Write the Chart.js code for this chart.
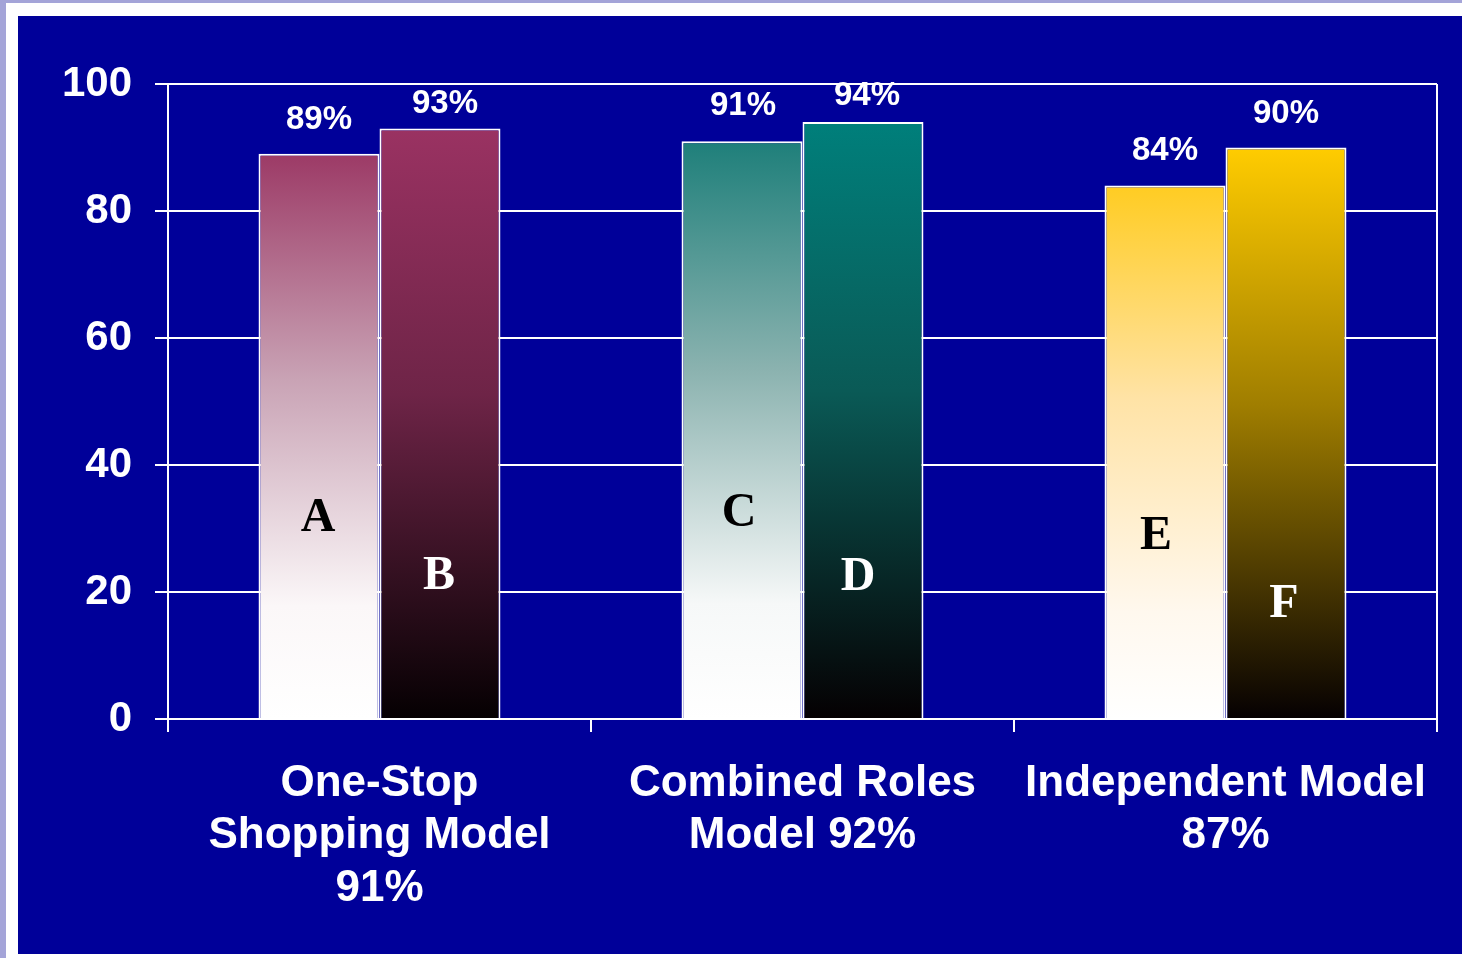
<!DOCTYPE html>
<html>
<head>
<meta charset="utf-8">
<script src="https://cdn.jsdelivr.net/npm/chart.js@4/dist/chart.umd.min.js"></script>
<style>
  html, body { margin: 0; padding: 0; }
  body { width: 1462px; height: 958px; background: #a4a4d8; position: relative; overflow: hidden; }
  #frame { position: absolute; left: 6px; top: 3px; right: 0; bottom: 0; background: #ffffff; }
  #panel { position: absolute; left: 18px; top: 16px; width: 1444px; height: 938px; background: #000099; }
</style>
</head>
<body>
<div id="frame"></div>
<div id="panel"><canvas id="barChart" width="1444" height="938"></canvas></div>
<script>
// categories (multi-line x labels)
var categories = [
  ['One-Stop', 'Shopping Model', '91%'],
  ['Combined Roles', 'Model 92%'],
  ['Independent Model', '87%']
];

// left bar of each pair (A, C, E) and right bar (B, D, F)
var leftValues = [89, 91, 84];
var rightValues = [93, 94, 90];

var leftLetters = ['A', 'C', 'E'];
var rightLetters = ['B', 'D', 'F'];

// height (in axis units) where the letter sits inside the bar
var leftLetterLevels = [31.5, 32.3, 28.7];
var rightLetterLevels = [22.4, 22.2, 18.0];

var yTicks = [0, 20, 40, 60, 80, 100];

var topColors = ['#9c3a66', '#1e7f7a', '#ffcc22'];
var lightMids = ['#c9a3b5', '#8cb3b0', '#ffe3a6'];
var nearWhite = ['#fbf7f8', '#f6f8f8', '#fff8ee'];
var topColorsDark = ['#9a3262', '#007f7b', '#ffcc00'];
var darkMids = ['#6e2447', '#0a5a56', '#a07e00'];

var WHITE = '#ffffff';

function fadeFill(toWhite) {
  return function (ctx) {
    var chart = ctx.chart;
    var i = ctx.dataIndex;
    var top = toWhite ? topColors[i] : topColorsDark[i];
    if (!chart.chartArea || ctx.raw === undefined) return top;
    var y = chart.scales.y;
    var y0 = y.getPixelForValue(ctx.raw);
    var y1 = y.getPixelForValue(0);
    var g = chart.ctx.createLinearGradient(0, y0, 0, y1);
    g.addColorStop(0, top);
    if (toWhite) {
      g.addColorStop(0.4, lightMids[i]);
      g.addColorStop(0.8, nearWhite[i]);
      g.addColorStop(1, '#ffffff');
    } else {
      g.addColorStop(0.45, darkMids[i]);
      g.addColorStop(1, '#050002');
    }
    return g;
  };
}

// value labels above bars + letters inside bars
var barText = {
  id: 'barText',
  afterDatasetsDraw: function (chart) {
    var c = chart.ctx;
    var y = chart.scales.y;
    chart.data.datasets.forEach(function (ds, di) {
      chart.getDatasetMeta(di).data.forEach(function (bar, i) {
        c.save();
        c.textAlign = 'center';
        c.textBaseline = 'middle';
        c.fillStyle = WHITE;
        c.font = 'bold 33px "Liberation Sans", Arial, sans-serif';
        c.fillText(ds.data[i] + '%', bar.x + ds.labelShift[i], bar.y - ds.labelGap[i]);
        c.font = 'bold 48px "Liberation Serif", "Times New Roman", serif';
        c.fillStyle = ds.letterColor;
        c.fillText(ds.letters[i], bar.x + ds.letterShift[i], y.getPixelForValue(ds.letterLevels[i]));
        c.restore();
      });
    });
  }
};

var ctx = document.getElementById('barChart').getContext('2d');
var chart = new Chart(ctx, {
  type: 'bar',
  data: {
    labels: categories,
    datasets: [{
      data: leftValues,
      letters: leftLetters,
      letterLevels: leftLetterLevels,
      letterColor: '#000000',
      letterShift: [-1, -3, -9],
      labelGap: [34, 35, 35],
      labelShift: [0, 1, 0],
      backgroundColor: fadeFill(true),
      borderColor: WHITE,
      borderWidth: 2
    }, {
      data: rightValues,
      letters: rightLetters,
      letterLevels: rightLetterLevels,
      letterColor: '#ffffff',
      letterShift: [-1, -5, -2],
      labelGap: [25, 26, 34],
      labelShift: [5, 4, 0],
      backgroundColor: fadeFill(false),
      borderColor: WHITE,
      borderWidth: 2
    }]
  },
  options: {
    responsive: false,
    animation: false,
    categoryPercentage: 0.572,
    barPercentage: 1.0,
    layout: { padding: { top: 68, right: 25, left: 0, bottom: 0 } },
    plugins: {
      legend: { display: false },
      tooltip: { enabled: false }
    },
    scales: {
      x: {
        afterFit: function (s) { s.height = 235; },
        grid: {
          offset: true,
          color: function (c) { return (c.index === 1 || c.index === 2) ? 'transparent' : WHITE; },
          tickColor: WHITE,
          lineWidth: 2,
          tickLength: 13
        },
        border: { color: WHITE, width: 2 },
        ticks: {
          color: WHITE,
          padding: 25,
          maxRotation: 0,
          autoSkip: false,
          font: { family: '"Liberation Sans", Arial, sans-serif', size: 44, weight: 'bold', lineHeight: 1.2 }
        }
      },
      y: {
        min: 0,
        max: 100,
        afterFit: function (s) { s.width = 150; },
        afterBuildTicks: function (s) { s.ticks = yTicks.map(function (v) { return { value: v }; }); },
        grid: { color: WHITE, tickColor: WHITE, lineWidth: 2, tickLength: 13 },
        border: { color: WHITE, width: 2 },
        ticks: {
          color: WHITE,
          padding: 23,
          font: { family: '"Liberation Sans", Arial, sans-serif', size: 42, weight: 'bold' }
        }
      }
    }
  },
  plugins: [barText]
});
</script>
</body>
</html>
